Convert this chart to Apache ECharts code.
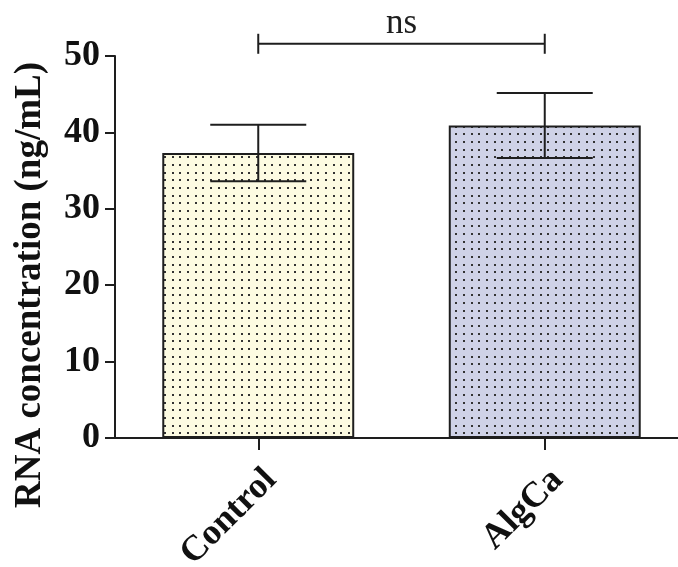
<!DOCTYPE html>
<html>
<head>
<meta charset="utf-8">
<script src="https://cdn.jsdelivr.net/npm/echarts@6/dist/echarts.min.js"></script>
<style>
html,body{margin:0;padding:0;background:#fff;}
#chart{width:678px;height:567px;}
</style>
</head>
<body>
<div id="chart"></div>
<script>
const categories = ['Control', 'AlgCa'];
const means = [37.3, 40.9];
const sds = [3.7, 4.25];
const yTicks = [0, 10, 20, 30, 40, 50];
const sigLabel = 'ns';
const sigLevel = 51.6;
const fills = ['#fdfbe2', '#cfd2e7'];

function dotPattern(bg) {
  const c = document.createElement('canvas');
  c.width = 23; c.height = 23;
  const ctx = c.getContext('2d');
  ctx.fillStyle = bg;
  ctx.fillRect(0, 0, 23, 23);
  ctx.fillStyle = '#333333';
  const pos = [3, 11, 18];
  pos.forEach(x => pos.forEach(y => ctx.fillRect(x, y, 2, 2)));
  return c;
}

const FONT = 'Liberation Serif';
const chart = echarts.init(document.getElementById('chart'), null, {renderer: 'canvas'});

const errData = categories.map((c, i) => [i, means[i] - sds[i], means[i] + sds[i]]);

chart.setOption({
  backgroundColor: '#ffffff',
  animation: false,
  grid: {left: 115, right: -10, top: 56, bottom: 129, containLabel: false, outerBoundsMode: 'none'},
  xAxis: {
    type: 'category',
    data: categories,
    axisLine: {show: true, lineStyle: {color: '#1e1e1e', width: 2}},
    axisTick: {show: true, alignWithLabel: true, length: 12, lineStyle: {color: '#1e1e1e', width: 2}},
    axisLabel: {rotate: 45, margin: 24, verticalAlign: 'top', fontFamily: FONT, fontWeight: 'bold', fontSize: 36, color: '#111'}
  },
  yAxis: {
    type: 'value',
    min: yTicks[0], max: yTicks[yTicks.length - 1], interval: 10,
    name: 'RNA concentration (ng/mL)',
    nameLocation: 'middle',
    nameRotate: 90,
    nameGap: 66,
    nameTextStyle: {fontFamily: FONT, fontWeight: 'bold', fontSize: 37, color: '#111', padding: [0, 76, 0, 0]},
    axisLine: {show: true, lineStyle: {color: '#1e1e1e', width: 2}},
    axisTick: {show: true, length: 10, lineStyle: {color: '#1e1e1e', width: 2}},
    axisLabel: {margin: 15, fontFamily: FONT, fontWeight: 'bold', fontSize: 36, color: '#111'},
    splitLine: {show: false}
  },
  series: [
    {
      type: 'bar',
      barWidth: '67%',
      data: means.map((v, i) => ({
        value: v,
        itemStyle: {
          color: {image: dotPattern(fills[i]), repeat: 'repeat'},
          borderColor: '#1e1e1e', borderWidth: 2
        }
      })),
      z: 2
    },
    {
      type: 'custom',
      data: errData,
      z: 5,
      renderItem: function (params, api) {
        const x = api.value(0);
        const lo = api.coord([x, api.value(1)]);
        const hi = api.coord([x, api.value(2)]);
        const half = 48;
        const st = {stroke: '#1e1e1e', lineWidth: 2};
        return {
          type: 'group',
          children: [
            {type: 'line', shape: {x1: hi[0], y1: hi[1], x2: lo[0], y2: lo[1]}, style: st},
            {type: 'line', shape: {x1: hi[0] - half, y1: hi[1], x2: hi[0] + half, y2: hi[1]}, style: st},
            {type: 'line', shape: {x1: lo[0] - half, y1: lo[1], x2: lo[0] + half, y2: lo[1]}, style: st}
          ]
        };
      }
    },
    {
      type: 'custom',
      data: [[0, 1, sigLevel]],
      clip: false,
      z: 5,
      renderItem: function (params, api) {
        const a = api.coord([api.value(0), api.value(2)]);
        const b = api.coord([api.value(1), api.value(2)]);
        const st = {stroke: '#1e1e1e', lineWidth: 2};
        return {
          type: 'group',
          children: [
            {type: 'line', shape: {x1: a[0], y1: a[1], x2: b[0], y2: b[1]}, style: st},
            {type: 'line', shape: {x1: a[0], y1: a[1] - 10, x2: a[0], y2: a[1] + 10}, style: st},
            {type: 'line', shape: {x1: b[0], y1: b[1] - 10, x2: b[0], y2: b[1] + 10}, style: st},
            {type: 'text', style: {text: sigLabel, x: (a[0] + b[0]) / 2, y: a[1] - 2, align: 'center', verticalAlign: 'bottom', fontFamily: FONT, fontSize: 35, fill: '#1e1e1e'}}
          ]
        };
      }
    }
  ]
});
</script>
</body>
</html>
